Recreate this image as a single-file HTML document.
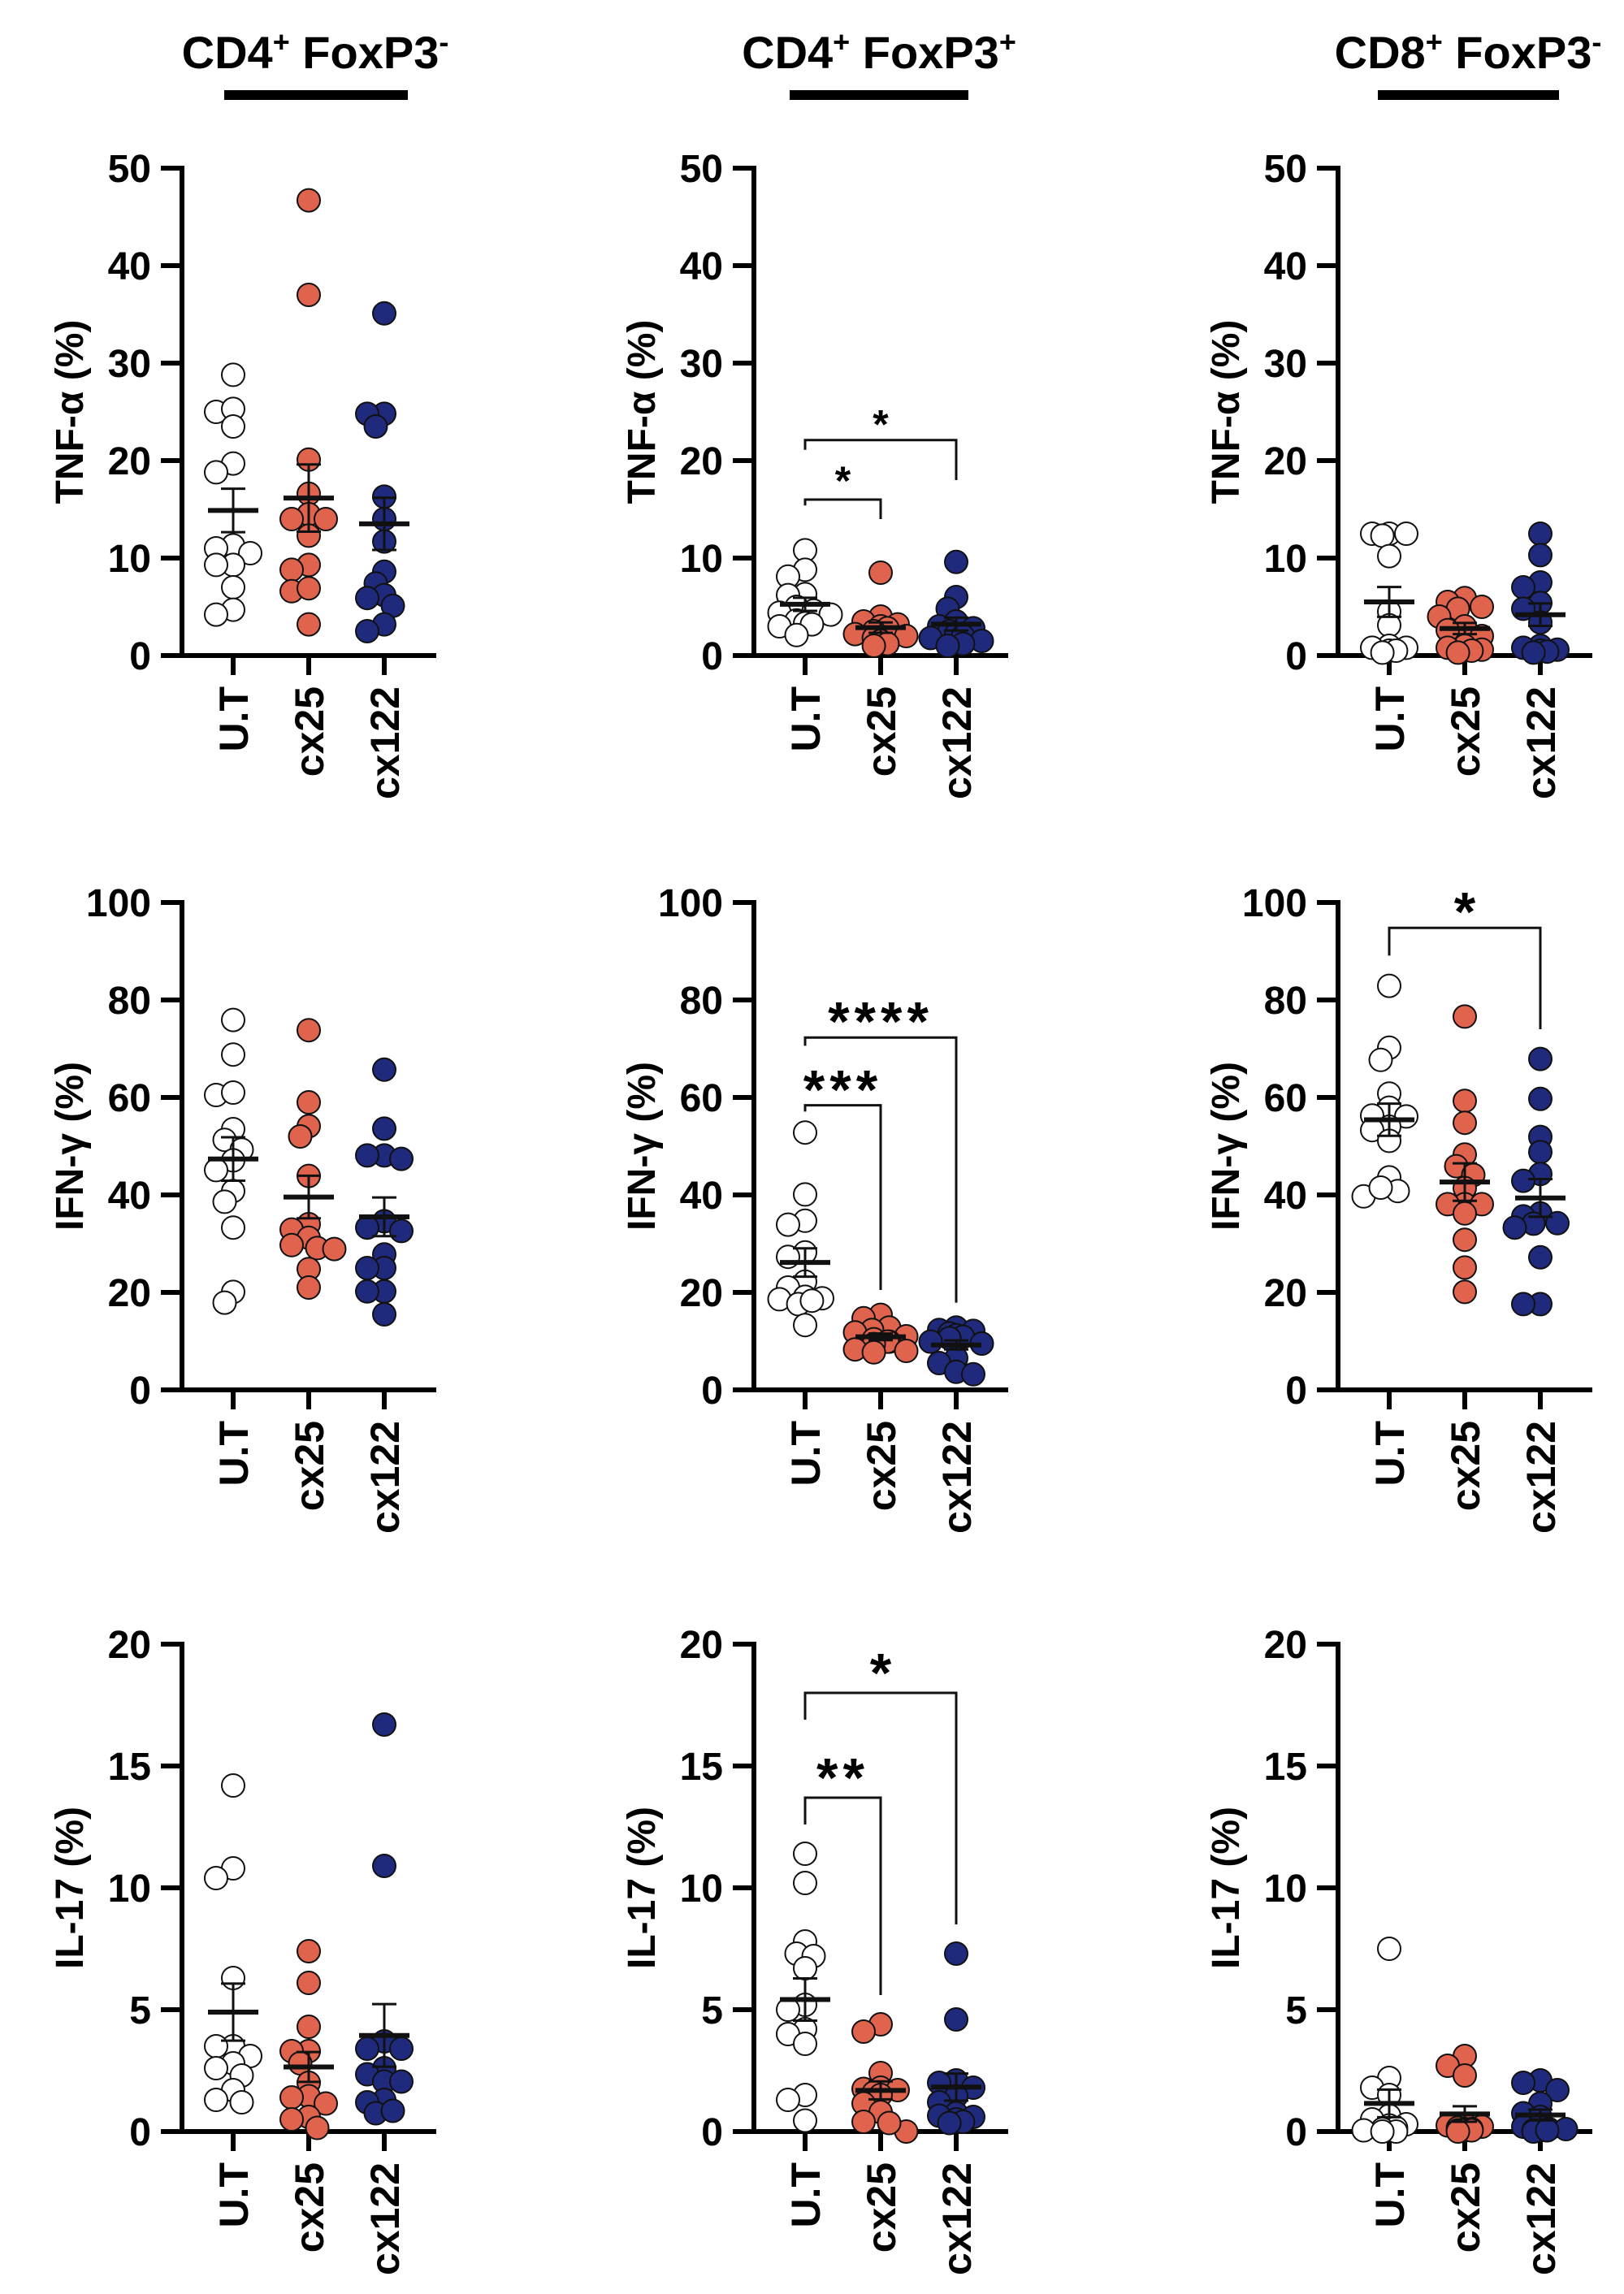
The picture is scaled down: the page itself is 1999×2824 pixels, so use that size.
<!DOCTYPE html>
<html><head><meta charset="utf-8"><style>
html,body{margin:0;padding:0;background:#fff;}
svg{display:block;font-family:"Liberation Sans",Arial,sans-serif;font-weight:bold;}
</style></head>
<body>
<svg id="fig" width="1999" height="2824" viewBox="0 0 1999 2824" xmlns="http://www.w3.org/2000/svg"></svg>
<script>
// ---------- data ----------
const categories = ['U.T','cx25','cx122'];
const tnfTicks = [0,10,20,30,40,50];
const ifnTicks = [0,20,40,60,80,100];
const il17Ticks = [0,5,10,15,20];

// Row 1: TNF-a
const tnf_neg_ut = [28.8,25.0,25.3,23.5,19.7,18.8,11.3,10.5,11.0,9.3,9.3,7.0,4.7,4.2];
const tnf_neg_cx25 = [46.7,37.0,20.1,16.6,14.5,14.0,14.0,12.3,9.3,8.8,6.6,6.9,3.2];
const tnf_neg_cx122 = [35.1,24.8,24.8,23.5,16.3,14.0,11.7,8.6,7.4,6.2,5.9,5.1,3.2,2.5];
const tnf_pos_ut = [10.8,8.8,8.1,6.3,6.2,5.0,4.6,4.4,4.2,3.6,3.3,3.2,3.0,2.1];
const tnf_pos_cx25 = [8.5,4.0,3.5,3.2,3.0,2.8,2.5,2.2,2.0,1.8,1.5,1.2,1.0];
const tnf_pos_cx122 = [9.6,6.0,4.8,3.5,3.0,2.8,2.5,2.2,2.0,1.8,1.5,1.2,1.0];
const tnf_cd8_ut = [12.5,12.5,12.5,12.3,10.2,4.5,3.1,1.0,0.8,0.8,0.5,0.5,0.3];
const tnf_cd8_cx25 = [5.9,5.5,5.0,4.8,4.0,3.0,2.6,2.0,1.0,0.8,0.6,0.5,0.3];
const tnf_cd8_cx122 = [12.5,10.3,7.5,7.0,5.4,4.8,3.4,1.0,0.8,0.6,0.5,0.4,0.3];

// Row 2: IFN-g
const ifn_neg_ut = [75.9,68.8,60.5,61.0,53.5,51.3,49.3,47.1,45.1,40.8,38.6,33.3,20.1,17.9];
const ifn_neg_cx25 = [73.8,59.0,54.1,52.0,43.9,34.0,32.9,31.2,29.7,29.1,28.9,24.8,21.0];
const ifn_neg_cx122 = [65.7,53.6,48.1,47.4,48.1,34.6,33.3,32.6,27.8,25.0,25.0,20.2,20.2,15.5];
const ifn_pos_ut = [52.8,40.1,34.7,33.9,28.2,27.3,22.2,21.0,19.1,18.8,18.6,17.6,18.3,13.3];
const ifn_pos_cx25 = [15.4,14.7,12.8,12.3,11.8,11.0,10.4,9.9,9.9,9.4,8.3,8.0,7.7];
const ifn_pos_cx122 = [12.8,12.3,12.1,11.6,11.2,10.9,10.6,9.9,9.5,6.5,5.5,3.7,3.2];
const ifn_cd8_ut = [82.9,70.2,67.7,60.8,57.9,56.1,56.3,54.0,53.3,51.1,43.6,39.7,40.8,41.5];
const ifn_cd8_cx25 = [76.6,59.3,54.8,48.3,45.9,44.1,41.4,38.1,38.1,38.1,36.2,30.8,25.1,20.1];
const ifn_cd8_cx122 = [67.9,59.7,51.9,48.8,44.3,42.9,36.2,35.6,34.2,34.1,33.3,27.2,17.6,17.6];

// Row 3: IL-17
const il17_neg_ut = [14.2,10.8,10.4,6.3,3.5,3.5,3.1,2.8,2.6,2.3,1.7,1.3,1.2];
const il17_neg_cx25 = [7.4,6.1,4.3,3.3,3.3,2.8,2.0,1.45,1.4,1.15,0.6,0.5,0.15];
const il17_neg_cx122 = [16.7,10.9,3.7,3.4,3.4,2.6,2.35,2.05,2.05,1.3,1.2,0.75,0.85];
const il17_pos_ut = [11.4,10.2,7.8,7.3,7.2,6.7,5.2,5.0,4.2,4.0,3.6,1.5,1.3,0.45];
const il17_pos_cx25 = [4.4,4.1,2.4,1.8,1.75,1.7,1.6,1.5,1.15,0.8,0.4,0.0,0.35];
const il17_pos_cx122 = [7.3,4.6,2.1,2.0,1.8,1.45,1.2,0.75,0.65,0.6,0.5,0.4,0.35];
const il17_cd8_ut = [7.5,2.2,1.8,1.5,0.65,0.5,0.3,0.25,0.15,0.1,0.05,0,0];
const il17_cd8_cx25 = [3.1,2.7,2.3,0.3,0.25,0.2,0.15,0.1,0.1,0.05,0.05,0.05,0];
const il17_cd8_cx122 = [2.1,2.0,1.7,1.15,0.75,0.6,0.2,0.1,0.1,0.05,0.05,0,0.05];

// significance brackets: [fromIdx, toIdx, barValue, leftEndValue, rightEndValue, stars, starValue]
const sig_tnf_pos = [[0,2,22.1,21.1,18.0,'*',24.6],[0,1,16.0,15.4,14.0,'*',18.8]];
const sig_ifn_pos = [[0,2,72.3,70.6,17.9,'****',78.0],[0,1,58.4,57.1,20.5,'***',64.0]];
const sig_ifn_cd8 = [[0,2,94.8,89.1,74.0,'*',100.5]];
const sig_il17_pos = [[0,2,18.0,16.9,8.5,'*',19.3],[0,1,13.7,12.6,5.6,'**',15.0]];

// ---------- layout ----------
const colX = [224, 928, 1647];
const rowY0 = [807, 1711, 2624];
const plotH = 600;
const tickOff = [63, 156, 249];
const axisLen = 313;
const colors = ['#ffffff', '#e0634d', '#1f2a7c'];

const panels = [
 {r:0,c:0,title:'TNF-α (%)',max:50,ticks:tnfTicks,data:[tnf_neg_ut,tnf_neg_cx25,tnf_neg_cx122],sig:[]},
 {r:0,c:1,title:'TNF-α  (%)',max:50,ticks:tnfTicks,data:[tnf_pos_ut,tnf_pos_cx25,tnf_pos_cx122],sig:sig_tnf_pos},
 {r:0,c:2,title:'TNF-α  (%)',max:50,ticks:tnfTicks,data:[tnf_cd8_ut,tnf_cd8_cx25,tnf_cd8_cx122],sig:[]},
 {r:1,c:0,title:'IFN-γ (%)',max:100,ticks:ifnTicks,data:[ifn_neg_ut,ifn_neg_cx25,ifn_neg_cx122],sig:[]},
 {r:1,c:1,title:'IFN-γ (%)',max:100,ticks:ifnTicks,data:[ifn_pos_ut,ifn_pos_cx25,ifn_pos_cx122],sig:sig_ifn_pos},
 {r:1,c:2,title:'IFN-γ (%)',max:100,ticks:ifnTicks,data:[ifn_cd8_ut,ifn_cd8_cx25,ifn_cd8_cx122],sig:sig_ifn_cd8},
 {r:2,c:0,title:'IL-17 (%)',max:20,ticks:il17Ticks,data:[il17_neg_ut,il17_neg_cx25,il17_neg_cx122],sig:[]},
 {r:2,c:1,title:'IL-17 (%)',max:20,ticks:il17Ticks,data:[il17_pos_ut,il17_pos_cx25,il17_pos_cx122],sig:sig_il17_pos},
 {r:2,c:2,title:'IL-17 (%)',max:20,ticks:il17Ticks,data:[il17_cd8_ut,il17_cd8_cx25,il17_cd8_cx122],sig:[]}
];

const NS = 'http://www.w3.org/2000/svg';
const svg = document.getElementById('fig');
function mk(tag, attrs, parent){
  const e = document.createElementNS(NS, tag);
  for (const k in attrs) e.setAttribute(k, attrs[k]);
  (parent||svg).appendChild(e);
  return e;
}

// column headers
const headers = [
  {cx:388, b1:276, b2:502, sup1:'+', sup2:'-'},
  {cx:1082, b1:972, b2:1192, sup1:'+', sup2:'+'},
  {cx:1807, b1:1696, b2:1919, sup1:'+', sup2:'-'}
];
const hdrPrefix = ['CD4','CD4','CD8'];
headers.forEach((h,i)=>{
  const t = mk('text',{x:h.cx,y:84,'text-anchor':'middle','font-size':56});
  
  
  t.appendChild(document.createTextNode(hdrPrefix[i]));
  const s1 = mk('tspan',{'baseline-shift':'super','font-size':36},t); s1.textContent=h.sup1;
  const m = mk('tspan',{},t); m.textContent=' FoxP3';
  const s2 = mk('tspan',{'baseline-shift':'super','font-size':36},t); s2.textContent=h.sup2;
  const bar = mk('line',{x1:h.b1,x2:h.b2,y1:117,y2:117,stroke:'#000','stroke-width':12});
  
  
});

function beeswarm(vals, yf, r){
  const idx = vals.map((v,i)=>i).sort((a,b)=>vals[b]-vals[a]);
  const placed = []; const out = new Array(vals.length);
  const minD = r*1.15;
  const lim = r*2.3;
  idx.forEach(i=>{
    const y = yf(vals[i]);
    const cands=[0]; for(let k=1;k<6;k++){cands.push(-k*r*0.75);cands.push(k*r*0.75);}
    let best=null;
    for(const dx of cands){
      if(Math.abs(dx)>lim) continue;
      if(placed.every(p=>Math.hypot(p[0]-dx,p[1]-y)>=minD)){best=dx;break;}
    }
    if(best===null) best = (placed.length%3-1)*r*0.6;
    placed.push([best,y]); out[i]=[best,y];
  });
  return out;
}

panels.forEach(p=>{
  const ax = colX[p.c], y0 = rowY0[p.r];
  const yf = v => y0 - v/p.max*plotH;
  const g = mk('g',{});
  
  
  const ya = mk('line',{x1:ax,x2:ax,y1:yf(p.max)-3,y2:y0+3,stroke:'#000','stroke-width':6},g);
  
  
  const xa = mk('line',{x1:ax-3,x2:ax+axisLen,y1:y0,y2:y0,stroke:'#000','stroke-width':6},g);
  
  
  p.ticks.forEach(t=>{
    const y = yf(t);
    const tl = mk('line',{x1:ax-26,x2:ax,y1:y,y2:y,stroke:'#000','stroke-width':6},g);
    
    
    const tx = mk('text',{x:ax-38,y:y+17,'text-anchor':'end','font-size':48},g);
    
    
    tx.textContent = t;
  });
  const ty = mk('text',{x:0,y:0,'text-anchor':'middle','font-size':48,transform:`translate(${ax-122},${(yf(p.max)+y0)/2}) rotate(-90)`},g);
  
  
  ty.textContent = p.title;
  categories.forEach((cat,ci)=>{
    const x = ax + tickOff[ci];
    const tk = mk('line',{x1:x,x2:x,y1:y0,y2:y0+24,stroke:'#000','stroke-width':6},g);
    
    
    const lb = mk('text',{x:0,y:0,'text-anchor':'end','font-size':50,transform:`translate(${x+18},${y0+38}) rotate(-90)`},g);
    
    
    lb.textContent = cat;
  });
  p.data.forEach((vals,ci)=>{
    const x = ax + tickOff[ci];
    const r = 14;
    const pos = beeswarm(vals, yf, r);
    vals.forEach((v,i)=>{
      const c = mk('circle',{cx:x+pos[i][0],cy:pos[i][1],r:r,fill:colors[ci],stroke:'#111','stroke-width':2},g);
      
      
    });
    const n = vals.length, mean = vals.reduce((a,b)=>a+b,0)/n;
    const sd = Math.sqrt(vals.reduce((a,b)=>a+(b-mean)*(b-mean),0)/(n-1));
    const sem = sd/Math.sqrt(n);
    const eb = mk('path',{d:`M${x},${yf(mean+sem)}V${yf(mean-sem)}M${x-15},${yf(mean+sem)}H${x+15}M${x-15},${yf(mean-sem)}H${x+15}`,stroke:'#111','stroke-width':3,fill:'none'},g);
    
    
    const ml = mk('line',{x1:x-31,x2:x+31,y1:yf(mean),y2:yf(mean),stroke:'#111','stroke-width':6},g);
    
    
  });
  p.sig.forEach(s=>{
    const x1 = ax + tickOff[s[0]], x2 = ax + tickOff[s[1]];
    const br = mk('path',{d:`M${x1},${yf(s[3])}V${yf(s[2])}H${x2}V${yf(s[4])}`,stroke:'#111','stroke-width':3,fill:'none'},g);
    
    
    const fs = p.r===0 ? 50 : 68;
    const st = mk('text',{x:(x1+x2)/2,y:yf(s[6])+fs*0.55,'text-anchor':'middle','font-size':fs,'letter-spacing':s[5].length>1?6:0},g);
    
    
    st.textContent = s[5];
  });
});
</script>
</body></html>
